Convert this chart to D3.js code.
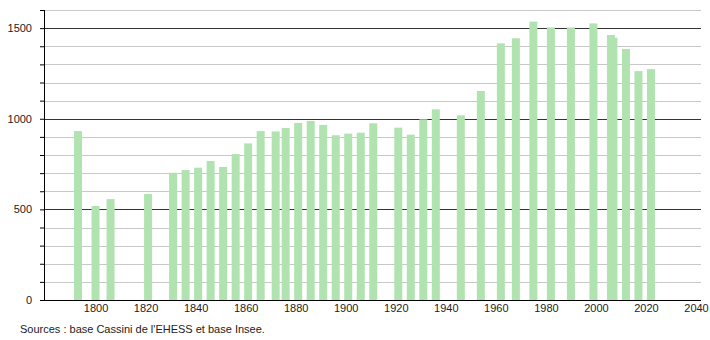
<!DOCTYPE html>
<html lang="fr">
<head>
<meta charset="utf-8">
<title>Population</title>
<style>
  body { margin: 0; background: #fff; }
  svg { display: block; font-family: "Liberation Sans", Arial, sans-serif; }
  .axis text { font-size: 11px; fill: #222; }
  .axis path, .axis line { stroke: #000; }
</style>
</head>
<body>
<div id="chart"></div>
<script src="https://cdn.jsdelivr.net/npm/d3@7"></script>
<script>
// census years and population
var years = [1793, 1800, 1806, 1821, 1831, 1836, 1841, 1846, 1851, 1856,
             1861, 1866, 1872, 1876, 1881, 1886, 1891, 1896, 1901, 1906,
             1911, 1921, 1926, 1931, 1936, 1946, 1954, 1962, 1968, 1975,
             1982, 1990, 1999, 2006, 2007, 2012, 2017, 2022];
var population = [932, 519, 557, 585, 702, 717, 730, 767, 734, 805,
                  864, 932, 930, 949, 977, 988, 966, 909, 918, 923,
                  975, 951, 912, 997, 1052, 1019, 1153, 1416, 1444, 1536,
                  1504, 1504, 1526, 1462, 1447, 1385, 1263, 1274];
var xTicks = [1800, 1820, 1840, 1860, 1880, 1900, 1920, 1940, 1960, 1980, 2000, 2020, 2040];
var yTicks = d3.range(0, 1601, 100);
var source = "Sources : base Cassini de l'EHESS et base Insee.";

var W = 710, H = 340;
var m = { left: 44, right: 701, top: 10, bottom: 300 };

var svg = d3.select('#chart').append('svg')
    .attr('width', W)
    .attr('height', H);

var x = d3.scaleLinear().domain([1779.4, 2042]).range([m.left, m.right]);
var y = d3.scaleLinear().domain([0, 1600]).range([m.bottom, m.top]);

// grid lines
svg.append('g')
    .selectAll('line')
    .data(yTicks.filter(function (d) { return d > 0; }))
    .enter()
    .append('line')
    .attr('x1', m.left)
    .attr('x2', m.right)
    .attr('y1', function (d) { return Math.round(y(d)) + 0.5; })
    .attr('y2', function (d) { return Math.round(y(d)) + 0.5; })
    .attr('stroke', function (d) { return d % 500 == 0 ? '#333' : '#c8c8c8'; })
    .attr('stroke-width', 1);

// bars
var bw = 8;
svg.append('g')
    .selectAll('rect')
    .data(years)
    .enter()
    .append('rect')
    .attr('x', function (d) { return x(d) - bw / 2; })
    .attr('y', function (d, i) { return y(population[i]); })
    .attr('width', bw)
    .attr('height', function (d, i) { return m.bottom - y(population[i]); })
    .attr('fill', '#b1e3b1');

// y axis
var yAxis = svg.append('g')
    .attr('class', 'axis')
    .attr('transform', 'translate(' + m.left + ',0)')
    .call(d3.axisLeft(y)
        .tickValues(yTicks)
        .tickSize(4)
        .tickPadding(8)
        .tickFormat(function (d) { return d % 500 == 0 ? d : ''; }));
yAxis.select('.domain').attr('d', 'M0.5,' + m.top + 'V' + m.bottom);

// x axis
var xAxis = svg.append('g')
    .attr('class', 'axis')
    .attr('transform', 'translate(0,' + m.bottom + ')')
    .call(d3.axisBottom(x)
        .tickValues(xTicks)
        .tickSize(0)
        .tickPadding(4)
        .tickFormat(d3.format('d')));
xAxis.select('.domain').attr('d', 'M' + m.left + ',0.5H' + m.right);

svg.append('text')
    .attr('x', 20)
    .attr('y', 333)
    .attr('font-size', 11)
    .attr('fill', '#222')
    .text(source);
</script>
</body>
</html>
